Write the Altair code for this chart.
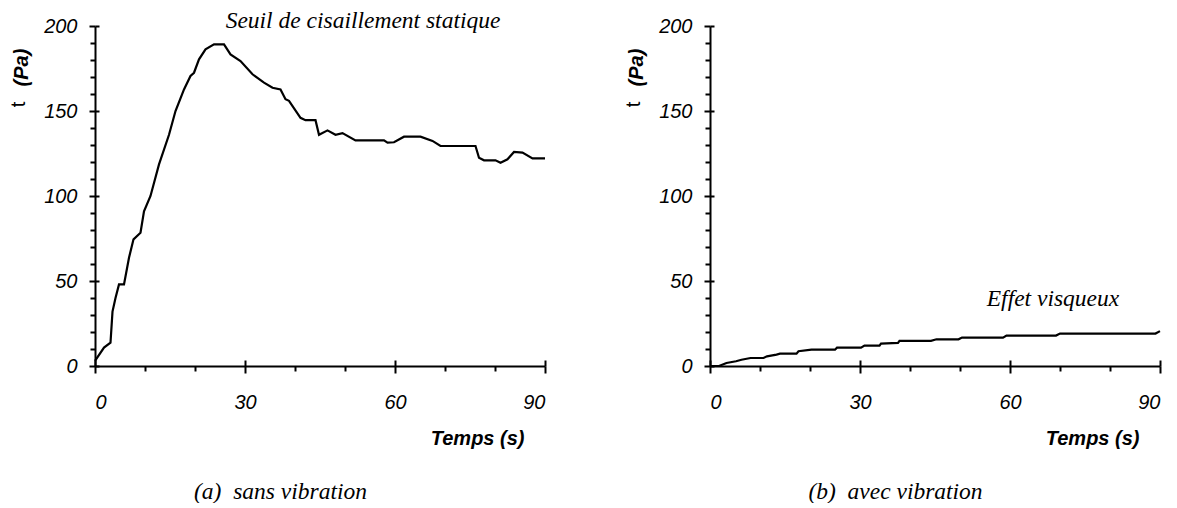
import altair as alt
import pandas as pd

# Panel (a): sans vibration
t_a = [0, 1.8, 3.1, 3.5, 4.1, 4.8, 5.8, 6.8, 7.7, 9.1, 9.8, 11.1, 12.8, 14.8, 16.1, 17.8,
       19.1, 19.8, 20.8, 22.1, 23.8, 25.8, 27.1, 29.1, 31.5, 33.8, 35.5, 37.1, 38.1, 38.8,
       41.1, 42.1, 44.1, 44.8, 46.5, 48.1, 49.5, 52.1, 57.8, 58.5, 59.8, 61.8, 65.1, 67.5,
       69.1, 76.1, 76.8, 77.8, 80.1, 81.1, 82.5, 83.8, 85.5, 87.5, 90]
v_a = [3, 10.8, 13.7, 32, 40, 48, 48, 63.7, 74.5, 78.4, 91, 100, 118.6, 136, 150, 162.7,
       170.6, 172.5, 180.4, 186.3, 189.2, 189.2, 183.3, 179.4, 171.6, 166.7, 163.7, 162.7, 156.9, 156,
       146, 144.6, 144.6, 136, 138.6, 136, 137, 132.7, 132.7, 131.4, 131.6, 134.9, 134.9, 132.4,
       129.4, 129.4, 122.5, 121, 121, 119.6, 121.6, 125.9, 125.5, 122.1, 122.1]

# Panel (b): avec vibration
t_b = [0, 1.8, 3.3, 5.2, 6.3, 8.1, 10.7, 11.4, 13.3, 14.0, 17.3, 17.7, 20.3, 25.0, 25.4, 30.2,
       30.9, 33.9, 34.2, 37.6, 37.9, 44.2, 45.3, 49.7, 50.4, 58.6, 59.3, 69.2, 70.0, 89.1, 90]
v_b = [0, 0, 1.8, 2.8, 3.7, 4.7, 4.7, 5.7, 6.7, 7.3, 7.3, 8.7, 9.6, 9.6, 10.8, 10.8,
       12.0, 12.0, 13.2, 13.6, 14.8, 14.8, 15.7, 15.7, 16.7, 16.7, 17.9, 17.9, 19.1, 19.1, 20.5]

x_major = [0, 30, 60, 90]
x_minor = [10, 20, 40, 50, 70, 80]
y_major = [0, 50, 100, 150, 200]
y_minor = [10, 20, 30, 40, 60, 70, 80, 90, 110, 120, 130, 140, 160, 170, 180, 190]

captions = ["(a)\u00a0\u00a0sans vibration", "(b)\u00a0\u00a0avec vibration"]
notes = ["Seuil de cisaillement statique", "Effet visqueux"]
note_t = [53.6, 68.6]
note_v = [203.0, 39.4]

SANS = "Liberation Sans"
SERIF = "Liberation Serif"
FS = 20
FS_SERIF = 23.5

xs = alt.Scale(domain=[0, 90], nice=False, zero=False)
ys = alt.Scale(domain=[0, 200], nice=False, zero=False)


def panel(t, v, caption, note, nt, nv):
    df = pd.DataFrame({"t": t, "v": v})
    common = dict(domainColor="black", tickColor="black", tickWidth=2, domainWidth=2, grid=False)

    line = alt.Chart(df).mark_line(color="black", strokeWidth=2.2).encode(
        x=alt.X("t:Q", scale=xs, axis=alt.Axis(
            orient="bottom", values=x_major, tickSize=7, labelPadding=19,
            labelFont=SANS, labelFontSize=FS, labelFontStyle="italic", labelColor="black",
            title="Temps (s)", titleFont=SANS, titleFontSize=FS, titleFontStyle="italic",
            titleFontWeight="bold", titleColor="black", titleAlign="right", titleBaseline="middle",
            titleX=429, titleY=72, titleAnchor="end", **common)),
        y=alt.Y("v:Q", scale=ys, axis=alt.Axis(
            orient="left", values=y_major, tickSize=6, labelPadding=12,
            labelFont=SANS, labelFontSize=FS, labelFontStyle="italic", labelColor="black",
            title="(Pa)", titleFont=SANS, titleFontSize=FS, titleFontStyle="italic",
            titleFontWeight="bold", titleColor="black", titleAngle=270, titleAlign="center",
            titleBaseline="middle", titleX=-74, titleY=41, **common)),
    )

    minor = alt.Chart(df).mark_point(opacity=0).encode(
        x=alt.X("t:Q", scale=xs, axis=alt.Axis(
            orient="bottom", values=x_minor, tickSize=5, labels=False, domain=False,
            title=caption, titleFont=SERIF, titleFontSize=FS_SERIF, titleFontStyle="italic",
            titleFontWeight="normal", titleColor="black", titleAlign="center", titleBaseline="middle",
            titleX=185, titleY=125, **common)),
        y=alt.Y("v:Q", scale=ys, axis=alt.Axis(
            orient="left", values=y_minor, tickSize=5, labels=False, domain=False,
            title="t", titleFont=SANS, titleFontSize=FS, titleFontWeight="normal",
            titleColor="black", titleAngle=270, titleAlign="center", titleBaseline="middle",
            titleX=-77, titleY=78, **common)),
    )

    inward = alt.Chart(df).mark_point(opacity=0).encode(
        x=alt.X("t:Q", scale=xs, axis=alt.Axis(
            orient="bottom", values=x_major, tickSize=6, offset=-6, labels=False,
            domain=False, title=None, **common)),
        y=alt.Y("v:Q", scale=ys, axis=alt.Axis(
            orient="left", values=y_major, tickSize=4, offset=-4, labels=False,
            domain=False, title=None, **common)),
    )

    ndf = pd.DataFrame({"t": [nt], "v": [nv], "label": [note]})
    text = alt.Chart(ndf).mark_text(
        font=SERIF, fontSize=FS_SERIF, fontStyle="italic", color="black",
        align="center", baseline="middle").encode(
        x=alt.X("t:Q", scale=xs, axis=None),
        y=alt.Y("v:Q", scale=ys, axis=None),
        text="label:N",
    )

    return alt.layer(line, minor, inward, text).resolve_axis(
        x="independent", y="independent").properties(width=450, height=340)


left = panel(t_a, v_a, captions[0], notes[0], note_t[0], note_v[0])
right = panel(t_b, v_b, captions[1], notes[1], note_t[1], note_v[1])

chart = alt.hconcat(left, right, spacing=165, bounds="flush").properties(
    padding={"left": 0, "top": 0, "right": 0, "bottom": 0}
).configure(background="white", view=alt.ViewConfig(stroke=None))

chart.save("out.html", embed_options={"renderer": "svg", "actions": False})
